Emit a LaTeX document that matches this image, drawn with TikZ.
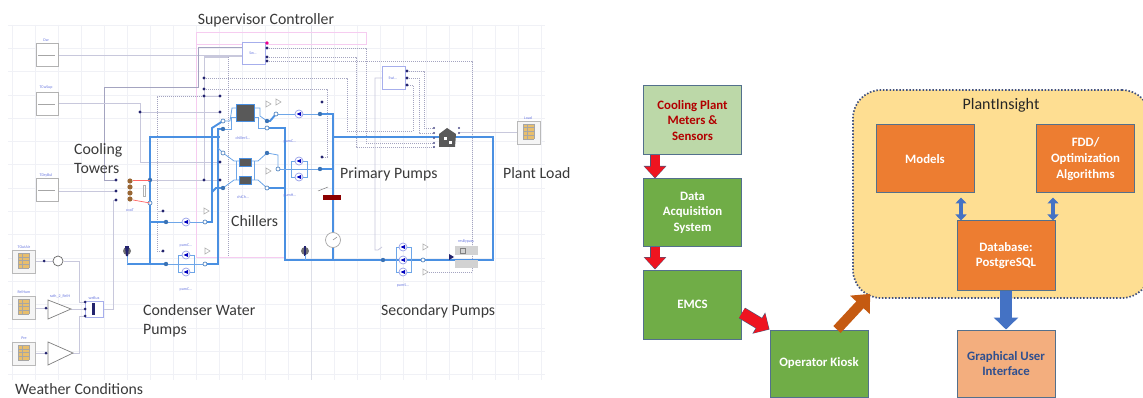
\documentclass[tikz,border=0pt]{standalone}
\usepackage{fontspec}
\setmainfont{Carlito}
\usetikzlibrary{arrows.meta,calc}
\definecolor{gridc}{HTML}{F0F1F6}
\definecolor{gridd}{HTML}{DDDFE8}
\definecolor{wirec}{HTML}{C8C8DC}
\definecolor{wired}{HTML}{A4A4C0}
\definecolor{pipec}{HTML}{4A90E2}
\definecolor{pinkc}{HTML}{F6CCF0}
\definecolor{bluet}{HTML}{6A78E0}
\definecolor{navyd}{HTML}{23236E}
\definecolor{edgec}{HTML}{53708C}
\definecolor{dgreen}{HTML}{70AD47}
\definecolor{lgreen}{HTML}{BCD8A8}
\definecolor{orangeb}{HTML}{ED7D31}
\definecolor{peach}{HTML}{F3AE7E}
\definecolor{yellowb}{HTML}{FEDE92}
\definecolor{redar}{HTML}{EE1420}
\definecolor{redout}{HTML}{4E5578}
\definecolor{brownar}{HTML}{C55A11}
\definecolor{bluear}{HTML}{4472C4}
\definecolor{labelc}{HTML}{3A3A3A}
\definecolor{tablec}{HTML}{E8BE6C}
\definecolor{guitext}{HTML}{2F4F8F}
\tikzset{
  bigbox/.style={draw=edgec,line width=1pt,inner sep=0pt,minimum width=98pt,align=center,font=\fontsize{12.8}{15.6}\selectfont\bfseries},
  greenbox/.style={bigbox,fill=dgreen,text=white,minimum height=68pt},
  orangebox/.style={bigbox,fill=orangeb,text=white,minimum height=68pt},
  caption/.style={inner sep=0pt,anchor=west,align=left,text=labelc,font=\fontsize{15.8}{19}\selectfont},
  tiny/.style={inner sep=0pt,text=bluet,font=\fontsize{4}{4.5}\selectfont},
  wire/.style={draw=wirec,line width=.8pt},
  dwire/.style={draw=wired,line width=.8pt,dash pattern=on 1pt off 1pt},
  pipe/.style={draw=pipec,line width=1.9pt},
  tpipe/.style={draw=pipec!80,line width=.8pt},
  pinkl/.style={draw=pinkc,line width=.8pt},
  fdot/.style={fill=navyd,draw=none},
  bdot/.style={fill=pipec!80!black,draw=none},
  odot/.style={fill=white,draw=pipec!70!gray,line width=.7pt},
  pumpc/.style={fill=white,draw=bluet!70,line width=.7pt},
  blockc/.style={fill=white,draw=bluet!60,line width=.7pt},
  chil/.style={fill=black!65,draw=pipec,line width=.5pt},
}
\newcommand{\fatarrow}[8]{%
  \draw[draw=#2,fill=#2,line width=#3pt+1.2pt,-{Triangle[width=#4pt+2pt,length=#5pt+1.5pt]}] #7 -- #8;
  \draw[draw=#1,fill=#1,line width=#3pt,-{Triangle[width=#4pt,length=#5pt]},shorten >=.8pt] #7 -- #8;}
\newcommand{\srctable}[2]{%
  \path[fill=gray!8,draw=gray!55,line width=.7pt] (#1,#2) rectangle ++(23,23);
  \fill[tablec] (#1+6,#2+3) rectangle ++(11,15);
  \foreach \yy in {3,6.7,10.4,14.1,18}{\draw[gray!70,line width=.4pt] (#1+6,#2+\yy) -- ++(11,0);}
  \draw[gray!70,line width=.4pt] (#1+6,#2+3) -- ++(0,15) (#1+10,#2+3) -- ++(0,15) (#1+17,#2+3) -- ++(0,15);}
\newcommand{\srcblock}[2]{%
  \path[fill=white,draw=gray!60,line width=.7pt] (#1,#2) rectangle ++(22,23);
  \draw[gray!70,line width=.7pt] (#1+2,#2+12) -- ++(17,0);}
\newcommand{\pumpic}[2]{%
  \path[pumpc] (#1,#2) circle (4pt);
  \fill[blue!75!black] (#1-2.5,#2) -- (#1+2,#2-2) -- (#1+2,#2+2) -- cycle;}
\newcommand{\smalltri}[2]{\path[fill=white,draw=gray!60,line width=.6pt] (#1-2,#2-3) -- (#1+3,#2) -- (#1-2,#2+3) -- cycle;}
\begin{document}
\begin{tikzpicture}[x=1pt,y=-1pt]
\path[use as bounding box,clip] (0,0) rectangle (1143,398);
\fill[white] (0,0) rectangle (1143,398);
% grid
\foreach \k in {0,...,23}{\draw[gridc,line width=.7pt] (12+23*\k,25) -- (12+23*\k,380);}
\foreach \k in {0,...,15}{\draw[gridc,line width=.7pt] (8,25+23.3*\k) -- (545,25+23.3*\k);}
\draw[gridd,line width=1pt] (311,25) -- (311,380);
% pink frames
\draw[pinkl] (196,32) rectangle (366,44);
\draw[pinkl] (196,44) -- (196,257) -- (285,257);
\draw[pinkl] (285,259.5) -- (470,259.5);
% grey wires
\draw[wire] (58,55) -- (242,55);
\draw[wired,line width=.7pt] (116,180) -- (104,180) -- (104,87) -- (198,87) -- (198,47) -- (242,47);
\draw[wire] (204,56) -- (242,56);
\draw[wire] (204,56) -- (204,180);
\draw[dwire] (228,57) -- (228,257);
\draw[wire] (205,57) -- (228,57);
\draw[dwire] (204,96) -- (157,96) -- (157,251) -- (163,251);
\draw[wire] (157,211) -- (163,211);
\draw[wire] (204,96) -- (220,96);
\draw[wire] (58,103) -- (140,103) -- (140,162) -- (220,162);
\draw[wire] (140,112) -- (220,112);
\draw[wire] (58,191) -- (116,191);
\draw[wire] (150,180) -- (220,180);
\draw[dwire] (267,48) -- (366,48) -- (366,143) -- (434,143);
\draw[dwire] (267,57) -- (356,57) -- (356,147) -- (434,147);
\draw[dwire] (267,61) -- (472,61) -- (472,272) -- (427,272);
\draw[dwire] (204,78) -- (347,78) -- (347,131) -- (413,131) -- (413,85) -- (407,85);
\draw[dwire] (204,89) -- (327,89) -- (327,157) -- (322,157);
\draw[dwire] (407,71) -- (424,71) -- (424,128) -- (434,128);
\draw[dwire] (407,78) -- (419,78) -- (419,133) -- (434,133);
\draw[wire] (382,78) -- (375,78) -- (375,250) -- (378,250) -- (382,247);
\draw[wire] (459,132) -- (517,132);
% weather wires
\draw[wire] (64,261) -- (79,261) -- (79,302) -- (85,302);
\draw[wire] (71,309) -- (85,309);
\draw[wire] (73,353) -- (79,353) -- (79,316) -- (85,316);
\draw[wire] (35,261) -- (53,261);
\draw[wire] (35,308) -- (48,308);
\draw[wire] (35,353) -- (48,353);
\draw[wire] (103,309) -- (113,309) -- (113,200) -- (116,200);
% pipes
\draw[pipe] (150,264) -- (150,137) -- (220,137);
\draw[pipe] (127,264) -- (166,264);
\draw[tpipe] (127,256) -- (127,264);
\draw[tpipe] (166,264) -- (205,264);
\draw[pipe] (205,264) -- (218,264) -- (218,129) -- (223,129);
\draw[pipe] (150,222) -- (166,222);
\draw[tpipe] (166,222) -- (205,222);
\draw[pipe] (205,222) -- (212,222) -- (212,128) -- (223,121);
\draw[tpipe] (218,148) -- (223,153);
\draw[pipe] (212,192) -- (216,188) -- (223,188);
\draw[pipe] (267,128) -- (285,128) -- (285,260) -- (493,260) -- (493,137) -- (333,137);
\draw[pipe] (267,188) -- (285,188);
\draw[pipe] (267,121) -- (270,121) -- (276,114);
\draw[tpipe] (276,114) -- (320,114);
\draw[pipe] (320,114) -- (333,114) -- (333,260);
\draw[tpipe] (278,169) -- (320,169);
\draw[pipe] (320,169) -- (333,169);
\draw[tpipe] (267,153) -- (278,155) -- (278,169);
\draw[pipe] (383,260) -- (423,260);
% chillers
\draw[tpipe] (223,121) -- (230,121) -- (232,108) -- (236,108);
\draw[tpipe] (223,129) -- (231,129) -- (231,117) -- (236,117);
\draw[tpipe] (254,108) -- (260,108) -- (260,116) -- (267,121);
\draw[tpipe] (254,117) -- (258,117) -- (258,128) -- (267,128);
\path[chil] (236,104) rectangle (254,121);
\draw[tpipe] (223,153) -- (234,161) -- (239,161);
\draw[tpipe] (223,188) -- (234,180) -- (239,180);
\draw[tpipe] (251,161) -- (258,161) -- (267,153);
\draw[tpipe] (251,180) -- (258,180) -- (267,188);
\draw[tpipe] (236,161) -- (236,180) (254,161) -- (254,180);
\path[chil] (239,158) rectangle (251,166);
\path[chil] (239,176) rectangle (251,184);
% junction dots
\foreach \p/\q in {204/78,204/89,204/96,204/180,140/112,116/180,116/191,116/200,220/96,220/112,220/162,220/180,163/211,163/251,322/102,322/157}{\path[fdot] (\p,\q) circle (1.6pt);}
\foreach \p/\q in {150/180,166/222,166/264,223/129,223/188,267/121,267/153,320/114,320/169,383/260}{\path[bdot] (\p,\q) circle (2.2pt);}
\foreach \p/\q in {150/203,205/222,205/264,223/121,223/153,267/128,267/188,276/114,278/169,423/260}{\path[odot] (\p,\q) circle (2pt);}
% pumps
\pumpic{186}{222}
\draw[tpipe] (178,255) rectangle (194,272);
\pumpic{186}{255}\pumpic{186}{272}
\draw[tpipe] (291,161) rectangle (307,177);
\pumpic{299}{161}\pumpic{299}{177}
\pumpic{299}{114}
\draw[tpipe] (396,247) rectangle (411,272);
\pumpic{403}{247}\pumpic{403}{260}\pumpic{403}{272}
% small triangles
\foreach \p/\q in {268/104,278/102,268/171,206/211,207/251,425/247,425/272}{\smalltri{\p}{\q}}
% cooling towers
\foreach \q in {181,187,193,199}{\fill[brown!80!black] (130,\q) circle (2.6pt);}
\draw[red!60,line width=.7pt] (133,180) -- (150,180);
\draw[red!60,line width=.7pt] (133,200) -- (150,203);
\draw[gray!60,line width=.5pt] (143,185) rectangle (145,196);
% expansion vessels
\fill[black!55] (127,251) circle (4pt);
\fill[navyd] (125,246) -- (129,246) -- (128,256) -- (126,256) -- cycle;
\fill[black!55] (305,251) circle (4pt);
\fill[navyd] (304,246) -- (306,246) -- (306,256) -- (304,256) -- cycle;
\draw[tpipe] (305,255) -- (305,260);
% sensors
\fill[red!55!black] (323,195) rectangle (341,200);
\draw[gray,line width=.5pt] (318,191) -- (328,187);
\path[fill=white,draw=gray!70,line width=.7pt] (333,240) circle (7.5pt);
\draw[gray,line width=.5pt] (333,240) -- (337,237);
% bypass
\fill[gray!35] (455,246) rectangle (478,255);
\fill[gray!35] (455,260) rectangle (478,268);
\draw[gray,line width=.5pt] (460,248) rectangle (465,253);
\fill[navyd] (449,254) -- (454,257) -- (449,260) -- cycle;
% building and load
\path[fill=black!65] (447,128) -- (456,134) -- (455,147) -- (439,147) -- (439,134) -- cycle;
\fill[white] (444,137) rectangle (447,140);
\fill[white] (449,141) rectangle (452,144);
\foreach \q in {128,133,138,143,147}{\fill[navyd!80] (434,\q) circle (1.2pt);}
\foreach \q in {128,133}{\fill[navyd!80] (459,\q) circle (1.2pt);}
\srctable{517}{121}
\srctable{12}{250}
\srctable{12}{296}
\srctable{12}{342}
% source blocks
\srcblock{36}{43}
\srcblock{36}{92}
\srcblock{36}{178}
% controllers
\path[blockc] (242,42) rectangle (265,64);
\path[blockc] (382,66) rectangle (405,89);
\fill[magenta] (267,43) circle (1.8pt);
\foreach \q in {48,57,61}{\path[fdot] (267,\q) circle (1.6pt);}
\foreach \q in {71,78,85}{\path[fdot] (407,\q) circle (1.6pt);}
% weather blocks
\path[fill=white,draw=black!60,line width=.7pt] (58,261) circle (5pt);
\path[fill=white,draw=gray,line width=.7pt] (48,300) -- (71,309) -- (48,319) -- cycle;
\path[fill=white,draw=gray,line width=.7pt] (48,342) -- (73,353) -- (48,365) -- cycle;
\path[blockc] (85,301) rectangle (103,317);
\fill[navyd] (92,303) rectangle (95,315);
\foreach \p/\q in {44/261,46/308,46/353,85/302,85/309,85/316}{\path[fdot] (\p,\q) circle (1.5pt);}
% tiny block names
\node[tiny] (tDw) at (46,40) {Dw};
\node[tiny] (tSup) at (46,88) {TCwSup};
\node[tiny] (tDry) at (46,175) {TDryBul};
\node[tiny] (tSw) at (253,53) {Sw...};
\node[tiny] (tSwb) at (393,78) {Swi...};
\node[tiny] (tChiS) at (243,138) {chillerS...};
\node[tiny] (tChiC) at (243,197) {chiCh...};
\node[tiny] (tPumA) at (290,142) {pumC...};
\node[tiny] (tPumB) at (290,196) {pumH...};
\node[tiny] (tCoo) at (130,210) {cooT};
\node[tiny] (tPumD) at (186,246) {pumC...};
\node[tiny] (tPumE) at (186,290) {pumC...};
\node[tiny] (tPumS) at (403,286) {pumS...};
\node[tiny] (tLoad) at (528,118) {Load};
\node[tiny] (tTem) at (24,247) {TOutAir};
\node[tiny] (tHum) at (24,292) {RelHum};
\node[tiny] (tPre) at (24,338) {Pre};
\node[tiny] (tRat) at (60,296) {rath\_2\_RelH};
\node[tiny] (tMux) at (94,298) {weBus};
\node[tiny] (tByp) at (466,242) {resBypass};
% captions
\node[caption,anchor=center] (capSup) at (266,20) {Supervisor Controller};
\node[caption] (capTow) at (74,158.5) {Cooling\\Towers};
\node[caption] (capPri) at (340,174) {Primary Pumps};
\node[caption] (capPla) at (503,173) {Plant Load};
\node[caption] (capChi) at (231,221) {Chillers};
\node[caption] (capCon) at (143,320.5) {Condenser Water\\Pumps};
\node[caption] (capSec) at (381,311) {Secondary Pumps};
\node[caption] (capWea) at (15,389.5) {Weather Conditions};
% right-hand diagram
\node[bigbox,fill=lgreen,text=red!70!black,minimum height=69pt] (meters) at (692.5,120.5) {Cooling Plant\\Meters \&\\Sensors};
\node[greenbox,minimum height=67pt] (daq) at (692.5,212.5) {Data\\Acquisition\\System};
\node[greenbox,minimum height=69pt] (emcs) at (692.5,304.5) {EMCS};
\node[greenbox,minimum height=67pt] (kiosk) at (819,363.5) {Operator Kiosk};
\node[draw=navyd!40!edgec,fill=yellowb,line width=1.7pt,dash pattern=on 1.5pt off 1.8pt,rounded corners=28pt,minimum width=297pt,minimum height=208pt,inner sep=0pt] (plant) at (1001.5,194) {};
\node[inner sep=0pt,font=\fontsize{16}{18}\selectfont,text=black!85] (pltitle) at (1001,105) {PlantInsight};
\node[orangebox] (models) at (925,159) {Models};
\node[orangebox] (fdd) at (1085.5,159) {FDD/\\Optimization\\Algorithms};
\node[orangebox,minimum height=69pt] (db) at (1006,255.5) {Database:\\PostgreSQL};
\node[bigbox,fill=peach,text=guitext,minimum height=67pt] (gui) at (1006,363.5) {Graphical User\\Interface};
% block arrows
\fatarrow{redar}{redout}{9}{20}{11}{}{([xshift=-37.5pt]meters.south)}{([xshift=-37.5pt]daq.north)}
\fatarrow{redar}{redout}{9}{20}{11}{}{([xshift=-37.5pt]daq.south)}{([xshift=-37.5pt]emcs.north)}
\fatarrow{redar}{redout}{11}{22}{11}{}{([yshift=-8.5pt]emcs.east)}{(kiosk.north west)}
\draw[draw=brownar,line width=10pt,-{Triangle[width=26pt,length=15pt]}] ([xshift=18pt]kiosk.north) -- ([xshift=18pt,yshift=5pt]plant.south west);
\draw[draw=bluear,line width=12pt,-{Triangle[width=24pt,length=12pt]}] (db.south) -- (gui.north);
\draw[draw=bluear,line width=4.5pt,{Triangle[width=11pt,length=6pt]}-{Triangle[width=11pt,length=6pt]}] ([xshift=-45pt,yshift=-2pt]db.north) ++(0,-25) -- ([xshift=-45pt]db.north);
\draw[draw=bluear,line width=4.5pt,{Triangle[width=11pt,length=6pt]}-{Triangle[width=11pt,length=6pt]}] ([xshift=47pt,yshift=-2pt]db.north) ++(0,-25) -- ([xshift=47pt]db.north);
\end{tikzpicture}
\end{document}
